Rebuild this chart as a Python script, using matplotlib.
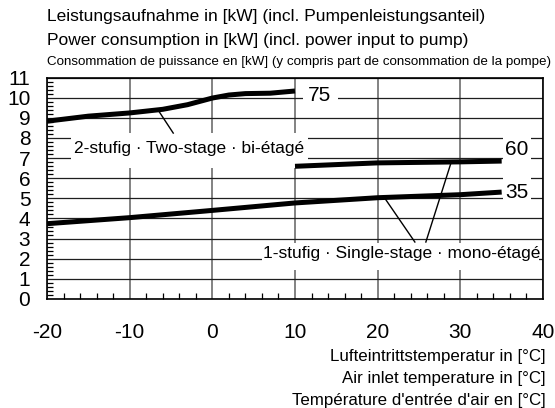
import numpy as np
import matplotlib
matplotlib.use("Agg")
import matplotlib.pyplot as plt
from matplotlib.patches import Rectangle
from matplotlib.ticker import MultipleLocator

plt.rcParams['font.family'] = ['Liberation Sans', 'DejaVu Sans']
plt.rcParams['axes.unicode_minus'] = False

# air inlet temperature [°C] and power consumption [kW] per flow temperature curve
t_75 = [-20, -15, -10, -6, -3, 0, 2, 4, 7, 10]
p_75 = [8.83, 9.08, 9.24, 9.42, 9.65, 9.98, 10.13, 10.2, 10.22, 10.33]
t_60 = [10, 20, 30, 35]
p_60 = [6.59, 6.76, 6.81, 6.85]
t_35 = [-20, -10, 0, 10, 20, 30, 35]
p_35 = [3.74, 4.04, 4.4, 4.77, 5.03, 5.18, 5.31]

x_ticks = [-20, -10, 0, 10, 20, 30, 40]
y_ticks = list(range(0, 12))

title_lines = ["Leistungsaufnahme in [kW] (incl. Pumpenleistungsanteil)",
               "Power consumption in [kW] (incl. power input to pump)",
               "Consommation de puissance en [kW] (y compris part de consommation de la pompe)"]
xlabel_lines = ["Lufteintrittstemperatur in [°C]",
                "Air inlet temperature in [°C]",
                "Température d'entrée d'air en [°C]"]

W, H = 555, 408
fig = plt.figure(figsize=(W / 100, H / 100), dpi=100)
ax = fig.add_axes([47 / W, 1 - 299 / H, 496 / W, (299 - 77.5) / H])

ax.set_xlim(-20, 40)
ax.set_ylim(0, 11)
ax.set_xticks(x_ticks)
ax.set_yticks(y_ticks)
ax.xaxis.set_minor_locator(MultipleLocator(2))
ax.yaxis.set_minor_locator(MultipleLocator(0.2))
ax.tick_params(which='major', length=0, labelsize=15)
ax.tick_params(axis='x', which='major', pad=17)
ax.tick_params(axis='y', which='major', pad=12)
ax.tick_params(which='minor', direction='in', length=4.5, width=0.9, color='black')
for s in ax.spines.values():
    s.set_linewidth(1.2)

ax.set_axisbelow(True)
ax.grid(axis='y', which='major', color='#1e1e1e', lw=0.9)
ax.grid(axis='x', which='major', color='#606060', lw=1.1)

# white boxes behind the labels that break the grid
for (x0, y0, x1, y1) in [(11.0, 9.6, 15.2, 10.6),
                         (-17.1, 6.5, 11.6, 8.26),
                         (6.0, 1.45, 39.5, 2.8),
                         (35.15, 4.85, 38.5, 8.35)]:
    ax.add_patch(Rectangle((x0, y0), x1 - x0, y1 - y0, facecolor='white',
                           edgecolor='none', zorder=1))

for t, p in [(t_75, p_75), (t_60, p_60), (t_35, p_35)]:
    ax.plot(t, p, color='black', lw=3.6, solid_capstyle='butt', zorder=3)

# leader lines
ax.plot([-6.54, -4.73], [9.37, 8.24], color='black', lw=1.0, zorder=2)
ax.plot([20.87, 24.5], [5.0, 2.83], color='black', lw=1.0, zorder=2)
ax.plot([28.94, 25.83], [6.85, 2.83], color='black', lw=1.0, zorder=2)

ax.text(13.0, 10.1, "75", fontsize=15, ha='center', va='center', zorder=4)
ax.text(36.8, 7.4, "60", fontsize=15, ha='center', va='center', zorder=4)
ax.text(36.8, 5.28, "35", fontsize=15, ha='center', va='center', zorder=4)
ax.text(-2.8, 7.45, "2-stufig · Two-stage · bi-étagé", fontsize=12.5,
        ha='center', va='center', zorder=4)
ax.text(22.9, 2.27, "1-stufig · Single-stage · mono-étagé", fontsize=12.5,
        ha='center', va='center', zorder=4)

fig.text(47 / W, 1 - 17 / H, title_lines[0], fontsize=12.5, va='center')
fig.text(47 / W, 1 - 40 / H, title_lines[1], fontsize=12.5, va='center')
fig.text(47 / W, 1 - 62 / H, title_lines[2], fontsize=9.6, va='center')

for i, yy in enumerate([356, 379, 400]):
    fig.text(546 / W, 1 - yy / H, xlabel_lines[i], fontsize=12.2,
             ha='right', va='center')

fig.savefig("out.png", dpi=100)
